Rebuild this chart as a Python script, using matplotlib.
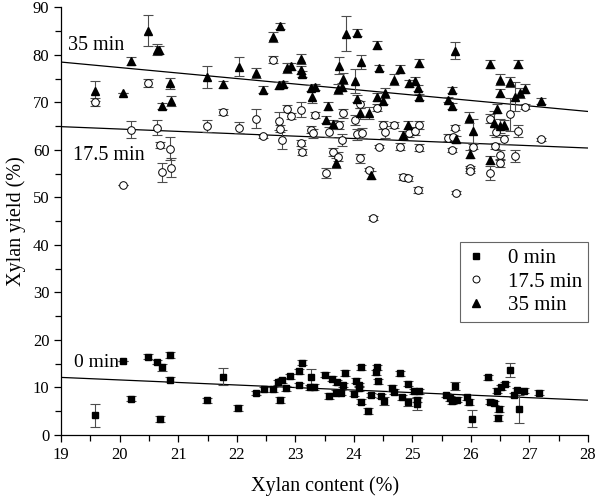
import numpy as np
import matplotlib
matplotlib.use('Agg')
import matplotlib.pyplot as plt
from matplotlib.lines import Line2D

plt.rcParams['font.family'] = ['Liberation Serif', 'DejaVu Serif']

# 0 min
x0 = [19.57, 20.05, 20.2, 20.48, 20.64, 20.68, 20.73, 20.86, 20.86, 21.49,
      21.77, 22.02, 22.32, 22.46, 22.62, 22.7, 22.74, 22.78, 22.84, 22.91,
      23.07, 23.07, 23.11, 23.25, 23.26, 23.32, 23.5, 23.57, 23.62, 23.69,
      23.72, 23.78, 23.82, 23.84, 24.0, 24.03, 24.09, 24.12, 24.13, 24.09,
      24.24, 24.29, 24.38, 24.39, 24.41, 24.47, 24.51, 24.66, 24.68, 24.78,
      24.82, 24.92, 24.93, 25.03, 25.08, 25.11, 25.08, 25.58, 25.64, 25.68,
      25.73, 25.76, 25.94, 25.96, 26.02, 26.3, 26.32, 26.39, 26.44, 26.48,
      26.47, 26.52, 26.58, 26.67, 26.73, 26.78, 26.82, 26.9, 27.16]
y0 = [4.1, 15.6, 7.6, 16.5, 15.4, 3.4, 14.2, 16.8, 11.6, 7.3,
      12.2, 5.7, 8.8, 9.6, 9.6, 11.1, 7.4, 11.5, 9.8, 12.3,
      10.5, 13.4, 15.2, 10.0, 12.1, 10.1, 12.7, 8.2, 11.8, 8.9,
      11.1, 8.9, 10.5, 13.0, 8.7, 11.4, 10.5, 14.2, 7.0, 9.8,
      5.0, 8.4, 13.2, 14.2, 11.3, 8.2, 7.1, 9.8, 9.1, 13.0,
      7.9, 10.8, 6.9, 9.2, 6.5, 9.2, 7.4, 8.4, 7.7, 7.1,
      10.3, 7.4, 7.9, 6.9, 3.4, 12.1, 7.0, 6.7, 9.3, 5.5,
      3.5, 10.0, 10.7, 13.7, 8.4, 9.4, 5.5, 9.3, 8.9]
e0 = [2.5, 0, 0.5, 0.5, 0.4, 0.6, 0.8, 0.6, 0.5, 0.5,
      1.8, 0.6, 0.5, 0.5, 0.5, 0.5, 0.6, 0.5, 0.5, 0.5,
      0.5, 0.5, 0.5, 0.5, 1.8, 0.6, 0.5, 0.6, 0.5, 0.5,
      0.5, 0.5, 0.5, 0.7, 0.5, 0.5, 0.5, 0.5, 0.5, 0.5,
      0.6, 0.5, 0.5, 0.5, 0.5, 0.5, 0.8, 0.6, 0.5, 0.5,
      0.5, 0.5, 0.8, 0.5, 1.2, 0.5, 0.5, 0.5, 0.5, 0.5,
      0.8, 0.5, 0.5, 0.6, 1.8, 0.5, 0.6, 0.5, 0.5, 0.6,
      0.6, 0.5, 0.5, 1.5, 0.5, 0.5, 3.0, 0.5, 0.5]

# 17.5 min
x17 = [19.58, 20.05, 20.19, 20.49, 20.64, 20.68, 20.73, 20.86, 20.87, 21.49,
       21.77, 22.03, 22.33, 22.45, 22.62, 22.72, 22.74, 22.78, 22.85, 22.92,
       23.09, 23.09, 23.12, 23.26, 23.3, 23.34, 23.52, 23.58,
       23.75, 23.81, 23.79, 23.64, 23.73, 24.02, 24.06, 24.14, 24.11, 24.11,
       24.26, 24.39, 24.43, 24.5, 24.53, 24.68, 24.79, 24.84, 24.93, 24.94,
       25.04, 25.11, 25.11, 25.1, 24.32, 25.61, 25.68, 25.72, 25.69, 25.74,
       25.98, 25.98, 26.03, 26.33, 26.33, 26.41, 26.43, 26.49, 26.49, 26.56,
       26.67, 26.75, 26.81, 26.92, 27.2]
y17 = [70.1, 52.6, 64.3, 74.1, 64.7, 61.0, 55.3, 60.3, 56.2, 65.0,
       68.0, 64.7, 66.6, 62.9, 79.0, 66.1, 64.5, 62.1, 68.7, 67.1,
       68.5, 61.4, 59.6, 64.3, 63.5, 67.3, 55.1, 63.8,
       65.2, 67.7, 62.1, 59.6, 58.6, 66.3, 63.3, 63.6, 69.6, 58.2,
       55.8, 68.9, 60.7, 65.2, 63.8, 65.2, 60.7, 54.3, 54.0, 63.6,
       64.0, 65.2, 60.5, 51.5, 45.6, 62.6, 60.0, 64.7, 62.7, 51.0,
       56.1, 55.6, 60.7, 66.6, 55.2, 60.9, 63.8, 58.9, 57.3, 62.2,
       67.5, 58.7, 64.0, 69.1, 62.2]
e17 = [0.8, 0, 1.8, 0.8, 1.5, 0.6, 2.0, 2.4, 2.0, 1.2,
       0.7, 1.2, 2.0, 0.3, 0.8, 1.8, 0.8, 2.0, 0.8, 0.6,
       1.5, 0.6, 0.6, 0.8, 1.0, 0.6, 1.0, 1.0,
       0.8, 1.0, 1.2, 0.8, 1.0, 1.0, 1.2, 1.0, 0.8, 1.0,
       0.3, 0.8, 0.3, 0.8, 1.2, 0.6, 0.8, 0.6, 0.6, 0.8,
       0.8, 0.8, 0.8, 0.6, 0.4, 0.8, 0.5, 0.6, 0.5, 0.3,
       0.5, 0.5, 0.5, 1.0, 1.5, 0.6, 1.0, 1.0, 0.8, 1.0,
       3.5, 1.2, 1.2, 0.5, 0.4]

# 35 min
x35 = [19.58, 20.05, 20.19, 20.49, 20.63, 20.67, 20.73, 20.86, 20.87, 21.49,
       21.77, 22.03, 22.33, 22.45, 22.62, 22.74, 22.72, 22.79, 22.85, 22.92,
       23.09, 23.09, 23.12, 23.26, 23.34, 23.29, 23.56, 23.52,
       23.86, 24.06, 24.39, 23.75, 24.13, 24.43, 24.79, 25.11, 23.82, 24.02,
       23.79, 23.73, 24.68, 24.94, 25.04, 25.1, 25.12, 24.06, 24.4, 24.5,
       24.53, 23.64, 24.11, 24.26, 24.93, 24.84, 23.7, 24.29, 25.72, 25.68,
       25.61, 25.67, 25.74, 25.97, 26.03, 25.98, 26.33, 26.49, 26.49, 26.67,
       26.8, 26.75, 26.83, 26.92, 26.45, 26.39, 26.49, 26.56, 26.32, 27.2]
y35 = [72.4, 72.0, 78.7, 85.1, 81.1, 81.0, 69.2, 74.0, 70.3, 75.4,
       73.8, 77.5, 76.2, 72.7, 83.8, 86.1, 73.6, 73.9, 77.3, 77.6,
       79.1, 76.8, 76.0, 73.1, 73.3, 71.2, 69.2, 66.4,
       84.5, 84.7, 82.1, 77.7, 78.5, 77.2, 77.0, 78.3, 75.0, 74.5,
       73.3, 72.8, 74.8, 74.0, 74.5, 73.1, 71.2, 70.8, 71.2, 70.3,
       72.0, 65.4, 67.7, 67.8, 65.2, 63.1, 57.2, 54.7, 80.9, 72.6,
       70.6, 69.2, 62.2, 66.8, 64.0, 59.1, 78.1, 74.8, 72.0, 74.3,
       78.1, 71.2, 72.0, 72.9, 68.7, 65.7, 65.0, 65.2, 57.9, 70.3]
e35 = [2.2, 0, 0.8, 3.3, 1.2, 0.8, 0.6, 1.2, 1.0, 2.3,
       0.7, 2.0, 1.0, 0.7, 1.0, 0.7, 0.8, 0.6, 1.0, 0.8,
       1.0, 0.8, 0.6, 0.6, 0.6, 1.3, 0.8, 0.8,
       3.7, 0.7, 0.8, 1.8, 1.5, 0.6, 0.9, 0.9, 1.2, 2.5,
       0.8, 1.0, 1.2, 0.8, 0.8, 0.6, 0.6, 0.8, 0.8, 0.6,
       1.0, 1.0, 1.2, 1.2, 0.8, 0.8, 1.0, 0.8, 1.8, 0.6,
       0.6, 0.6, 0.8, 1.2, 2.5, 0.8, 0.9, 1.2, 0.8, 1.0,
       0.8, 3.0, 1.0, 1.0, 1.0, 2.5, 1.5, 1.0, 0.8, 0.7]

# linear fits (ends at x = 19 and 28)
fit_x = [19, 28]
fit0 = [12.1, 7.3]
fit17 = [64.9, 60.4]
fit35 = [78.5, 68.1]

fig = plt.figure(figsize=(6, 4.97), dpi=100)
ax = fig.add_axes([0.102, 0.125, 0.878, 0.86])

eb = dict(fmt='none', ecolor='0.3', elinewidth=0.8, capsize=3.5, capthick=0.8, zorder=2)
ax.errorbar(x0, y0, yerr=e0, **eb)
ax.errorbar(x17, y17, yerr=e17, **eb)
ax.errorbar(x35, y35, yerr=e35, **eb)

ax.plot(fit_x, fit0, color='black', lw=0.9, zorder=1)
ax.plot(fit_x, fit17, color='black', lw=0.9, zorder=1)
ax.plot(fit_x, fit35, color='black', lw=0.9, zorder=1)

ax.plot(x17, y17, 'o', ms=5.5, mfc='white', mec='black', mew=0.7, ls='none', zorder=3)
ax.plot(x35, y35, '^', ms=6, mfc='black', mec='black', ls='none', zorder=4)
ax.plot(x0, y0, 's', ms=4.5, mfc='black', mec='black', ls='none', zorder=4)

ax.text(19.11, 81.9, '35 min', fontsize=14.5, va='center')
ax.text(19.21, 58.9, '17.5 min', fontsize=14.5, va='center')
ax.text(19.22, 15.3, '0 min', fontsize=14, va='center')

ax.set_xlim(19, 28)
ax.set_ylim(0, 90)
ax.set_xticks(np.arange(19, 29, 1))
ax.set_xticks(np.arange(19.5, 28, 1), minor=True)
ax.set_yticks(np.arange(0, 91, 10))
ax.set_yticks(np.arange(5, 90, 10), minor=True)
ax.tick_params(which='both', direction='out', labelsize=12, width=0.9)
ax.tick_params(which='major', length=5)
ax.tick_params(which='minor', length=4)
ax.spines['top'].set_visible(False)
ax.spines['right'].set_visible(False)
for s in ['left', 'bottom']:
    ax.spines[s].set_linewidth(0.9)

ax.set_xlabel('Xylan content (%)', fontsize=14.5, labelpad=10)
ax.set_ylabel('Xylan yield (%)', fontsize=14.5, labelpad=5)

handles = [
    Line2D([], [], marker='s', ms=4.5, color='black', ls='none'),
    Line2D([], [], marker='o', ms=5, mfc='white', mec='black', mew=0.7, ls='none'),
    Line2D([], [], marker='^', ms=6, color='black', ls='none'),
]
leg = ax.legend(handles, ['0 min', '17.5 min', '35 min'], loc='lower right',
                bbox_to_anchor=(1.0, 0.265), fontsize=15, frameon=True,
                fancybox=False, edgecolor='0.25', handlelength=1.0,
                handletextpad=1.0, labelspacing=0.2, borderpad=0.3,
                borderaxespad=0)
leg.get_frame().set_linewidth(0.8)

fig.savefig('out.png', dpi=100)
